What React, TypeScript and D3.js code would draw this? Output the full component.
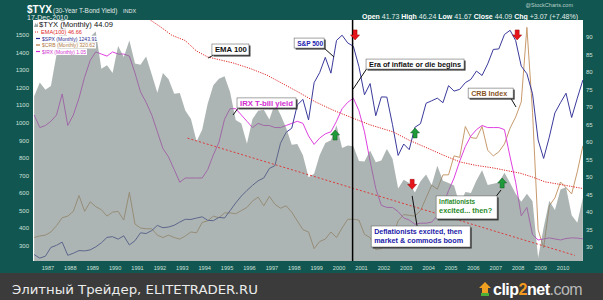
import React from "react";
import * as d3 from "d3";

const W = 603;
const H = 300;
const M = { left: 33, right: 583, top: 20, bottom: 261 };
const FONT = "'Liberation Sans', Arial, sans-serif";

// Quarter-end monthly closes, Jun 1986 .. Dec 2010
const spx = [
  251, 231, 242,
  292, 304, 322, 247,
  259, 274, 272, 278,
  295, 318, 349, 353,
  339, 358, 306, 330,
  375, 371, 388, 417,
  404, 408, 418, 436,
  452, 451, 459, 466,
  446, 444, 463, 459,
  501, 545, 584, 616,
  645, 671, 687, 741,
  757, 885, 947, 970,
  1102, 1134, 1017, 1229,
  1286, 1373, 1283, 1469,
  1499, 1455, 1436, 1320,
  1160, 1224, 1041, 1148,
  1147, 990, 815, 880,
  848, 975, 996, 1112,
  1126, 1141, 1115, 1212,
  1181, 1191, 1229, 1248,
  1295, 1270, 1336, 1418,
  1421, 1503, 1527, 1468,
  1323, 1280, 1166, 903,
  798, 919, 1057, 1115,
  1169, 1031, 1141, 1243.91,
];
const tyx = [
  73.1, 77.0, 74.9,
  76.0, 85.0, 98.0, 89.8,
  89.5, 89.0, 90.0, 90.0,
  91.6, 80.9, 81.9, 79.7,
  87.4, 84.3, 89.0, 82.4,
  82.1, 84.4, 79.3, 74.1,
  79.7, 77.9, 73.8, 74.0,
  69.0, 66.6, 60.2, 63.5,
  70.9, 76.2, 78.1, 78.8,
  74.3, 66.3, 65.3, 59.5,
  66.6, 68.9, 69.2, 66.4,
  70.9, 67.8, 64.0, 59.2,
  59.4, 56.2, 49.9, 50.9,
  56.2, 59.7, 60.5, 64.8,
  58.3, 59.0, 58.8, 54.6,
  54.4, 57.6, 54.2, 54.7,
  58.0, 55.2, 46.7, 49.2,
  48.3, 45.6, 48.8, 50.7,
  47.7, 53.2, 48.9, 48.3,
  47.6, 42.1, 45.7, 45.4,
  49.0, 51.9, 47.7, 48.1,
  48.4, 51.2, 48.3, 45.2,
  42.9, 45.2, 43.1, 26.9,
  35.6, 43.2, 40.6, 46.4,
  47.1, 39.1, 36.9, 44.09,
];
const crb = [
  205, 207, 208,
  212, 220, 230, 232,
  238, 258, 238, 250,
  244, 240, 232, 237,
  238, 227, 262, 222,
  217, 216, 216, 208,
  205, 208, 205, 203,
  207, 212, 211, 224,
  226, 232, 230, 236,
  236, 235, 239, 243,
  251, 256, 245, 257,
  247, 242, 245, 237,
  226, 215, 212, 191,
  200, 203, 212, 205,
  217, 228, 228, 227,
  209, 205, 190, 191,
  204, 205, 226, 234,
  233, 232, 239, 255,
  271, 266, 284, 284,
  308, 306, 345, 331,
  330, 345, 315, 308,
  313, 323, 343, 357,
  376, 470, 363, 215,
  192, 245, 255, 275,
  268, 260, 288, 320.62,
];
const irx = [
  60, 54, 55,
  57, 60, 70, 55,
  60, 68, 78, 86,
  90, 89, 88, 90,
  89, 89, 88, 80,
  71, 66, 60, 52,
  44, 40, 34, 28,
  30, 30, 30, 30,
  34, 41, 47, 58,
  63, 63, 60, 57,
  54, 56, 55, 55,
  54, 54, 55, 56,
  57, 56, 50, 46,
  49, 51, 52, 57,
  63, 66, 68, 62,
  52, 38, 25, 17,
  16, 16, 14, 11,
  10, 8, 8.5, 8.5,
  9, 12, 17, 24,
  30, 38, 45, 50,
  53, 55, 54, 54,
  54, 53, 40, 28,
  12, 16, 3, 0.5,
  1, 1.5, 1, 0.5,
  1.2, 1.5, 1.4, 1.05,
];

const emaYears = [1991.3, 1991.63, 1992.07, 1992.6, 1993.19, 1993.7, 1994.2, 1995.33, 1996.1, 1996.85, 1997.6, 1998.32, 1999.0, 1999.8, 2000.65, 2001.45, 2002.48, 2003.2, 2004.0, 2004.7, 2005.47, 2006.2, 2006.94, 2007.5, 2008.15, 2008.7, 2009.27, 2010.1, 2010.96];
const emaValues = [97, 94.9, 93.0, 90.5, 89.0, 86.0, 84.3, 82.6, 81.0, 79.1, 76.5, 74.0, 71.5, 69.1, 66.9, 64.9, 62.9, 60.5, 58.3, 56.3, 54.3, 53.3, 52.6, 51.9, 51.1, 50.0, 48.6, 47.7, 46.7];

const trendYears = [1993.3, 2010.6];
const trendValues = [61.1, 27.6];
const eraYear = 2000.67;

const leftTicks = d3.range(300, 1501, 100);
const rightTicks = d3.range(30, 91, 5);
const yearTicks = d3.range(1987, 2011);

const firstQuarter = new Date(1986, 5, 15);
const quarterDates = spx.map((_, i) => d3.timeMonth.offset(firstQuarter, 3 * i));

function yearToDate(y: number) {
  const yr = Math.floor(y);
  const a = new Date(yr, 0, 1).getTime();
  const b = new Date(yr + 1, 0, 1).getTime();
  return new Date(a + (y - yr) * (b - a));
}

const arrows = [
  { year: 2000.78, value: 90.6, dir: "down" },
  { year: 2003.33, value: 47.9, dir: "down" },
  { year: 2008.02, value: 90.6, dir: "down" },
  { year: 1999.89, value: 62.0, dir: "up" },
  { year: 2003.46, value: 62.6, dir: "up" },
  { year: 2007.35, value: 48.3, dir: "up" },
];

const notes = [
  { lines: ["EMA 100"], lens: [32], color: "#111", year: 1994.39, value: 88.0, w: 37, h: 11, from: [1994.45, 84.8], to: [1994.22, 84.0] },
  { lines: ["S&P 500"], lens: [26], color: "#2222b0", year: 1998.06, value: 89.7, w: 30, h: 10, from: [1999.3, 87.4], to: [1999.84, 84.3] },
  { lines: ["IRX T-bill yield"], lens: [53], color: "#d02cd0", year: 1995.51, value: 72.6, w: 59, h: 10, from: [1995.6, 70.0], to: [1995.33, 67.7] },
  { lines: ["Era of inflate or die begins"], lens: [92], color: "#111", year: 2001.27, value: 83.7, w: 98, h: 10, from: [2001.35, 81.4], to: [2000.69, 75.1] },
  { lines: ["CRB Index"], lens: [36], color: "#8a5526", year: 2005.83, value: 75.4, w: 45, h: 10, from: [2007.7, 72.9], to: [2007.97, 70.0] },
  { lines: ["Inflationists", "excited... then?"], lens: [36, 53], color: "#2a8a2a", year: 2004.4, value: 44.6, w: 61, h: 23, from: [2007.0, 43.8], to: [2007.3, 46.3] },
  { lines: ["Deflationists excited, then", "market & commods boom"], lens: [88, 89], color: "#1a1aa8", year: 2001.5, value: 36.0, w: 99, h: 21, from: [2003.55, 36.0], to: [2003.33, 44.6] },
];

const legendRows = [
  { label: "$TYX (Monthly) 44.09", color: "#111", size: 7, x: 39, y: 27, len: 74, icon: "area" },
  { label: "EMA(100) 46.66", color: "#e02828", size: 5.6, x: 41, y: 34, len: 41, icon: "dash" },
  { label: "$SPX (Monthly) 1243.91", color: "#2a2a90", size: 5.6, x: 42, y: 40.5, len: 55, icon: "line" },
  { label: "$CRB (Monthly) 320.62", color: "#b07840", size: 5.6, x: 42, y: 47, len: 53, icon: "line" },
  { label: "$IRX (Monthly) 1.05", color: "#d030d0", size: 5.6, x: 42, y: 53.5, len: 44, icon: "line" },
];

export default function App() {
  const x = d3.scaleTime().domain([new Date(1986, 4, 27), new Date(2010, 11, 17)]).range([M.left, M.right]);
  const yR = d3.scaleLinear().domain([26, 94.86]).range([M.bottom, M.top]);
  const yL = d3.scaleLinear().domain([214.7, 1585.5]).range([M.bottom, M.top]);
  const yC = d3.scaleLinear().domain([175.4, 479.3]).range([M.bottom, M.top]);
  const yI = d3.scaleLinear().domain([-9.5, 105.2]).range([M.bottom, M.top]);

  const lineOf = (vals: number[], ys: d3.ScaleLinear<number, number>) =>
    d3.line<number>().x((_, i) => x(quarterDates[i])).y((v) => ys(v))(vals) || "";

  const area = d3.area<number>().x((_, i) => x(quarterDates[i])).y0(M.bottom).y1((v) => yR(v))(tyx) || "";
  const ema = d3.line<number>().x((_, i) => x(yearToDate(emaYears[i]))).y((v) => yR(v))(emaValues) || "";
  const trend = d3.line<number>().x((_, i) => x(yearToDate(trendYears[i]))).y((v) => yR(v))(trendValues) || "";
  const eraX = x(yearToDate(eraYear));

  return (
    <svg width={W} height={H} style={{ display: "block", position: "absolute", left: 0, top: 0 }} fontFamily={FONT}>
      <defs>
        <clipPath id="plot">
          <rect x={M.left} y={M.top} width={M.right - M.left} height={M.bottom - M.top} />
        </clipPath>
      </defs>
      <rect x={0} y={0} width={W} height={H} fill="#115650" />
      <rect x={M.left} y={M.top} width={M.right - M.left} height={M.bottom - M.top} fill="#fff" />

      <g clipPath="url(#plot)">
        <path d={lineOf(crb, yC)} fill="none" stroke="#c89a6c" strokeWidth={1} />
        <path d={lineOf(irx, yI)} fill="none" stroke="#e040e0" strokeWidth={1} />
        <path d={lineOf(spx, yL)} fill="none" stroke="#3a3a9c" strokeWidth={1} />
        <path d={area} fill="rgb(117,132,128)" fillOpacity={0.6} />
        <path d={trend} fill="none" stroke="#dc3a3a" strokeWidth={1} strokeDasharray="2,2" />
        <path d={ema} fill="none" stroke="#e02a2a" strokeWidth={1} strokeDasharray="1.2,1.2" />
        <line x1={eraX} x2={eraX} y1={M.top} y2={M.bottom} stroke="#000" strokeWidth={1.5} />
      </g>

      {arrows.map((a, i) => {
        const cx = x(yearToDate(a.year));
        const cy = yR(a.value);
        const s = a.dir === "down" ? 1 : -1;
        const p = [
          [-2, -5 * s], [2, -5 * s], [2, 0], [4.5, 0], [0, 5 * s], [-4.5, 0], [-2, 0],
        ].map(([dx, dy]) => `${cx + dx},${cy + dy}`).join(" ");
        return (
          <polygon key={i} points={p} fill={a.dir === "down" ? "#e8141c" : "#1f9a3a"} stroke={a.dir === "down" ? "#9a0000" : "#0b5a1c"} strokeWidth={0.5} />
        );
      })}

      {notes.map((n, i) => {
        const bx = x(yearToDate(n.year));
        const by = yR(n.value);
        const fx = x(yearToDate(n.from[0]));
        const fy = yR(n.from[1]);
        const tx = x(yearToDate(n.to[0]));
        const ty = yR(n.to[1]);
        return (
          <g key={i}>
            <line x1={fx} y1={fy} x2={tx} y2={ty} stroke="#111" strokeWidth={1} />
            <rect x={bx + 1.5} y={by + 1.5} width={n.w} height={n.h} fill="#333" />
            <rect x={bx} y={by} width={n.w} height={n.h} fill="#fff" stroke="#666" strokeWidth={0.6} />
            {n.lines.map((t, j) => (
              <text key={j} x={bx + 3} y={by + 7.6 + j * 9} fontSize={6.8} fontWeight="bold" fill={n.color}
                textLength={n.lens[j]} lengthAdjust="spacingAndGlyphs">{t}</text>
            ))}
          </g>
        );
      })}

      {legendRows.map((r, i) => (
        <g key={i}>
          <rect x={r.x - 1} y={r.y - r.size * 0.85} width={r.len + 2} height={r.size + 0.6} fill="#fff" />
          {r.icon === "area" ? (
            <polygon points={`${r.x - 5},${r.y} ${r.x - 3.5},${r.y - 4} ${r.x - 2},${r.y - 2} ${r.x - 1},${r.y - 5} ${r.x - 1},${r.y}`} fill="#9aa7a5" />
          ) : (
            <line x1={r.x - 6} x2={r.x - 2} y1={r.y - 2} y2={r.y - 2} stroke={r.color} strokeWidth={1.2} strokeDasharray={r.icon === "dash" ? "1,1" : undefined} />
          )}
          <text x={r.x} y={r.y} fontSize={r.size} fill={r.color} textLength={r.len} lengthAdjust="spacingAndGlyphs">{r.label}</text>
        </g>
      ))}

      {leftTicks.map((t) => (
        <text key={t} x={29} y={yL(t) + 2} fontSize={6} textAnchor="end" fill="#cfe0dc">{t}</text>
      ))}
      {rightTicks.map((t) => (
        <text key={t} x={586} y={yR(t) + 2} fontSize={6} fill="#cfe0dc">{t}</text>
      ))}
      {yearTicks.map((yr) => (
        <text key={yr} x={x(new Date(yr, 0, 1)) + 1.5} y={270} fontSize={5.6} textAnchor="middle" fill="#cfe0dc">{yr}</text>
      ))}

      <text x={27} y={12.5} fontSize={10} fontWeight="bold" fill="#fff">$TYX</text>
      <text x={53} y={12.5} fontSize={6.4} fill="#e2ecea">(30-Year T-Bond Yield)</text>
      <text x={123} y={12.5} fontSize={5.5} fill="#e2ecea">INDX</text>
      <text x={27} y={19.5} fontSize={7} fill="#e2ecea" textLength={41} lengthAdjust="spacingAndGlyphs">17-Dec-2010</text>
      <text x={573} y={7} fontSize={5.5} textAnchor="end" fill="#b9d0cb">@StockCharts.com</text>
      <text x={362} y={18.5} fontSize={6.5} fill="#e2ecea" textLength={216} lengthAdjust="spacingAndGlyphs">
        <tspan fontWeight="bold" fill="#fff">Open</tspan> 41.73 <tspan fontWeight="bold" fill="#fff">High</tspan> 46.24 <tspan fontWeight="bold" fill="#fff">Low</tspan> 41.67 <tspan fontWeight="bold" fill="#fff">Close</tspan> 44.09 <tspan fontWeight="bold" fill="#fff">Chg</tspan> +3.07 (+7.48%)
      </text>

      <rect x={0} y={273} width={W} height={27} fill="#3b3b3b" />
      <text x={12} y={294} fontSize={13} fill="#ececec" fontFamily="'DejaVu Sans', sans-serif" textLength={246} lengthAdjust="spacingAndGlyphs">Элитный Трейдер, ELITETRADER.RU</text>
      <polygon points="485,282 491,288 488,288 488,296 482,296 482,288 479,288" fill="#f0a020" />
      <rect x={481} y={293} width={8} height={3} fill="#4caf3a" />
      <text x={493} y={295} fontSize={16} fontWeight="bold" fill="#fff" letterSpacing={-0.5}>
        clip<tspan fill="#f39a1e">2</tspan>net<tspan fontWeight="normal" fill="#b8b8b8">.com</tspan>
      </text>
    </svg>
  );
}
